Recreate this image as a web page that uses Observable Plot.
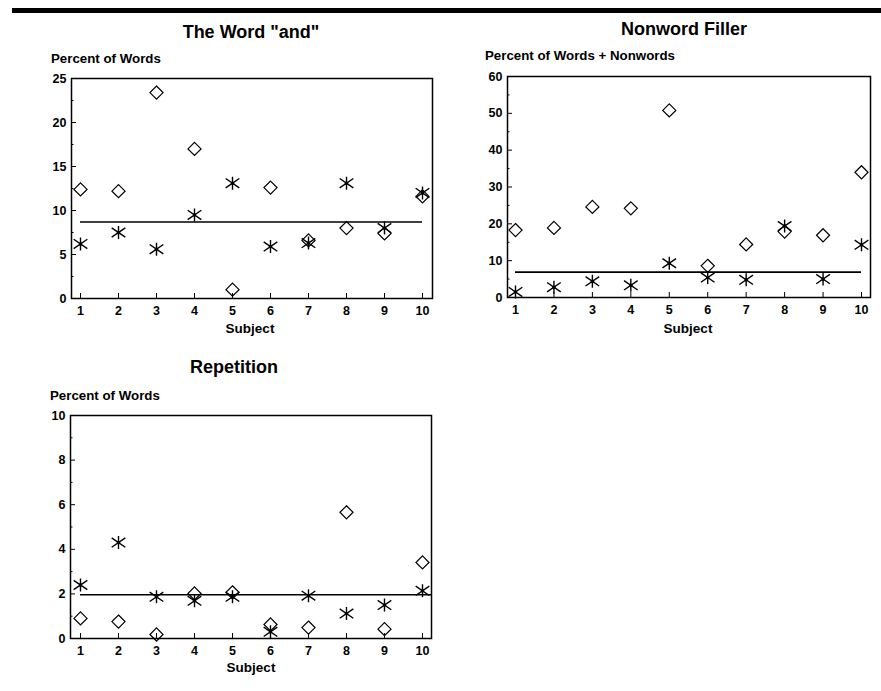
<!DOCTYPE html>
<html>
<head>
<meta charset="utf-8">
<script src="https://cdn.jsdelivr.net/npm/d3@7"></script>
<script src="https://cdn.jsdelivr.net/npm/@observablehq/plot@0.6"></script>
<style>
  body { margin: 0; background: #fff; }
  #root { position: relative; width: 881px; height: 691px; background: #fff; overflow: hidden;
          font-family: "Liberation Sans", Arial, sans-serif; font-weight: bold; color: #000; }
  .abs { position: absolute; white-space: nowrap; }
  .title { font-size: 18px; transform: translate(-50%, -50%); }
  .ylab { font-size: 13.3px; transform: translate(0, -50%); }
  .xlab { font-size: 13.5px; transform: translate(-50%, -50%); }
  .bar { position: absolute; left: 12px; top: 8px; width: 869px; height: 5px; background: #000; }
  svg { position: absolute; }
</style>
</head>
<body>
<div id="root">
  <div class="bar"></div>
</div>
<script>
// ---------- data ----------
const subjects = [1, 2, 3, 4, 5, 6, 7, 8, 9, 10];

const andDiamonds = [12.4, 12.2, 23.4, 17.0, 1.0, 12.6, 6.6, 8.0, 7.4, 11.6];
const andStars    = [6.2, 7.5, 5.6, 9.5, 13.1, 5.9, 6.3, 13.1, 8.0, 12.0];
const andMean     = 8.7;

const fillerDiamonds = [18.3, 18.9, 24.6, 24.2, 50.8, 8.6, 14.4, 17.9, 16.9, 34.0];
const fillerStars    = [1.5, 2.8, 4.4, 3.3, 9.3, 5.4, 4.8, 19.4, 5.0, 14.3];
const fillerMean     = 6.9;

const repDiamonds = [0.90, 0.76, 0.18, 2.02, 2.07, 0.63, 0.49, 5.66, 0.42, 3.41];
const repStars    = [2.40, 4.30, 1.87, 1.69, 1.87, 0.30, 1.92, 1.12, 1.50, 2.14];
const repMean     = 1.96;

const andTicks = [0, 5, 10, 15, 20, 25];
const andMinor = [2.5, 7.5, 12.5, 17.5, 22.5];
const fillerTicks = [0, 10, 20, 30, 40, 50, 60];
const fillerMinor = [5, 15, 25, 35, 45, 55];
const repTicks = [0, 2, 4, 6, 8, 10];
const repMinor = [1, 3, 5, 7, 9];

// ---------- helpers ----------
const asterisk = {
  draw(context, size) {
    const r = Math.sqrt(size / Math.PI);
    context.moveTo(0, -r); context.lineTo(0, r);
    context.moveTo(-r * 1.05, -r * 0.72); context.lineTo(r * 1.05, r * 0.72);
    context.moveTo(-r * 1.05, r * 0.72); context.lineTo(r * 1.05, -r * 0.72);
  }
};

const root = document.getElementById("root");
function addText(cls, text, x, y) {
  const d = document.createElement("div");
  d.className = "abs " + cls;
  d.textContent = text;
  d.style.left = x + "px";
  d.style.top = y + "px";
  root.appendChild(d);
}

function panel({left, top, width, height, mL, mR, mT, mB, xDomain, yDomain, ticks, minor,
                diamonds, stars, mean, meanX2}) {
  const rows = subjects.map((s, i) => ({s, d: diamonds[i], a: stars[i]}));
  const innerW = width - mL - mR;
  const innerH = height - mT - mB;
  const ux = (xDomain[1] - xDomain[0]) / innerW;   // data units per px (x)
  const uy = (yDomain[1] - yDomain[0]) / innerH;   // data units per px (y)
  const x0 = xDomain[0];
  const svg = Plot.plot({
    width, height,
    marginLeft: mL, marginRight: mR, marginTop: mT, marginBottom: mB,
    style: {fontFamily: "'Liberation Sans', Arial, sans-serif", fontSize: "12.5px", fontWeight: "bold", color: "#000", background: "transparent", overflow: "visible"},
    x: {domain: xDomain, ticks: subjects, tickSize: 0, tickPadding: 8, label: null, tickFormat: d3.format("d")},
    y: {domain: yDomain, ticks: ticks, tickSize: 0, tickPadding: 5, label: null},
    marks: [
      Plot.ruleY(ticks, {y: d => d, x1: x0, x2: x0 + 5 * ux, stroke: "#000", strokeWidth: 1}),
      Plot.ruleY(minor, {y: d => d, x1: x0, x2: x0 + 2.5 * ux, stroke: "#000", strokeWidth: 1}),
      Plot.ruleX(subjects, {x: d => d, y1: yDomain[0], y2: yDomain[0] + 5 * uy, stroke: "#000", strokeWidth: 1}),
      Plot.ruleY([mean], {y: d => d, x1: 1, x2: meanX2, stroke: "#000", strokeWidth: 1.6}),
      Plot.dot(rows, {x: "s", y: "d", symbol: "diamond2", r: 5.9, stroke: "#000", strokeWidth: 1.2, fill: "none"}),
      Plot.dot(rows, {x: "s", y: "a", symbol: asterisk, r: 6.5, stroke: "#000", strokeWidth: 1.4, fill: "none"}),
      Plot.dot(rows, {x: "s", y: "a", r: 1.7, fill: "#000", stroke: "none"}),
      Plot.frame({stroke: "#000", strokeWidth: 1.5})
    ]
  });
  svg.style.left = left + "px";
  svg.style.top = top + "px";
  root.appendChild(svg);
}

// Panel 1: The Word "and"
panel({left: 0, top: 70, width: 450, height: 270, mL: 71, mR: 18, mT: 8, mB: 42,
       xDomain: [0.763, 10.263], yDomain: [0, 25], ticks: andTicks, minor: andMinor,
       diamonds: andDiamonds, stars: andStars, mean: andMean, meanX2: 10});
addText("title", 'The Word "and"', 251, 32);
addText("ylab", "Percent of Words", 51, 58);
addText("xlab", "Subject", 250, 328);

// Panel 2: Nonword Filler
panel({left: 440, top: 70, width: 441, height: 270, mL: 67, mR: 11, mT: 6, mB: 43,
       xDomain: [0.792, 10.234], yDomain: [0, 60], ticks: fillerTicks, minor: fillerMinor,
       diamonds: fillerDiamonds, stars: fillerStars, mean: fillerMean, meanX2: 10});
addText("title", "Nonword Filler", 684, 29);
addText("ylab", "Percent of Words + Nonwords", 485, 55);
addText("xlab", "Subject", 688, 328);

// Panel 3: Repetition
panel({left: 0, top: 405, width: 450, height: 275, mL: 70, mR: 19, mT: 10, mB: 42,
       xDomain: [0.737, 10.237], yDomain: [0, 10], ticks: repTicks, minor: repMinor,
       diamonds: repDiamonds, stars: repStars, mean: repMean, meanX2: 10.237});
addText("title", "Repetition", 234, 367);
addText("ylab", "Percent of Words", 50, 395);
addText("xlab", "Subject", 251, 667);
</script>
</body>
</html>
